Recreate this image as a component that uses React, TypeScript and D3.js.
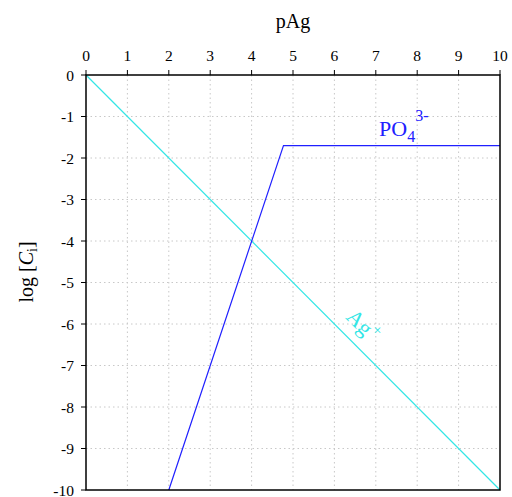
import React from "react";
import * as d3 from "d3";

const xTicks = [0, 1, 2, 3, 4, 5, 6, 7, 8, 9, 10];
const yTicks = [0, -1, -2, -3, -4, -5, -6, -7, -8, -9, -10];
const agX = [0, 10];
const agY = [0, -10];
const po4X = [2, 4.77, 10];
const po4Y = [-10, -1.7, -1.7];

const W = 512, H = 497;
const M = { left: 86, right: 500, top: 75, bottom: 490 };

export default function App() {
  const x = d3.scaleLinear().domain([0, 10]).range([M.left, M.right]);
  const y = d3.scaleLinear().domain([0, -10]).range([M.top, M.bottom]);
  const line = d3.line<[number, number]>().x(d => x(d[0])).y(d => y(d[1]));
  const ag = agX.map((v, i) => [v, agY[i]] as [number, number]);
  const po = po4X.map((v, i) => [v, po4Y[i]] as [number, number]);
  const font = "'Liberation Serif', 'DejaVu Serif', serif";
  return (
    <svg width={W} height={H} style={{ position: "absolute", left: 0, top: 0 }} fontFamily={font}>
      <rect width={W} height={H} fill="#fff" />
      {xTicks.slice(1, -1).map(t => (
        <line key={"gx" + t} x1={x(t)} x2={x(t)} y1={M.top} y2={M.bottom} stroke="#c8c8c8" strokeDasharray="1.5,3" />
      ))}
      {yTicks.slice(1, -1).map(t => (
        <line key={"gy" + t} x1={M.left} x2={M.right} y1={y(t)} y2={y(t)} stroke="#c8c8c8" strokeDasharray="1.5,3" />
      ))}
      <path d={line(ag) || ""} fill="none" stroke="#33e6e6" strokeWidth={1.2} />
      <path d={line(po) || ""} fill="none" stroke="#2020ff" strokeWidth={1.2} />
      <rect x={M.left} y={M.top} width={M.right - M.left} height={M.bottom - M.top} fill="none" stroke="#000" strokeWidth={1.5} />
      {xTicks.map(t => (
        <g key={"tx" + t}>
          <line x1={x(t)} x2={x(t)} y1={M.top} y2={M.top - 5} stroke="#000" />
          <text x={x(t)} y={61} textAnchor="middle" fontSize={15.5}>{t}</text>
        </g>
      ))}
      {yTicks.map(t => (
        <g key={"ty" + t}>
          <line x1={M.left} x2={M.left - 5} y1={y(t)} y2={y(t)} stroke="#000" />
          <text x={74} y={y(t) + 5.5} textAnchor="end" fontSize={15.5}>{t}</text>
        </g>
      ))}
      <text x={293} y={28} textAnchor="middle" fontSize={20}>pAg</text>
      <text transform="translate(33,272) rotate(-90)" textAnchor="middle" fontSize={20}>
        log [<tspan fontStyle="italic">C</tspan><tspan fontSize={14} dy={4}>i</tspan><tspan dy={-4}>]</tspan>
      </text>
      <text x={379} y={136} fill="#2020ff" fontSize={22}>
        PO<tspan fontSize={16} dy={6}>4</tspan><tspan fontSize={16} dy={-21}>3-</tspan>
      </text>
      <text transform="translate(345,318) rotate(45)" fill="#33e6e6" fontSize={22}>
        Ag<tspan fontSize={16} dy={-9}>+</tspan>
      </text>
    </svg>
  );
}
